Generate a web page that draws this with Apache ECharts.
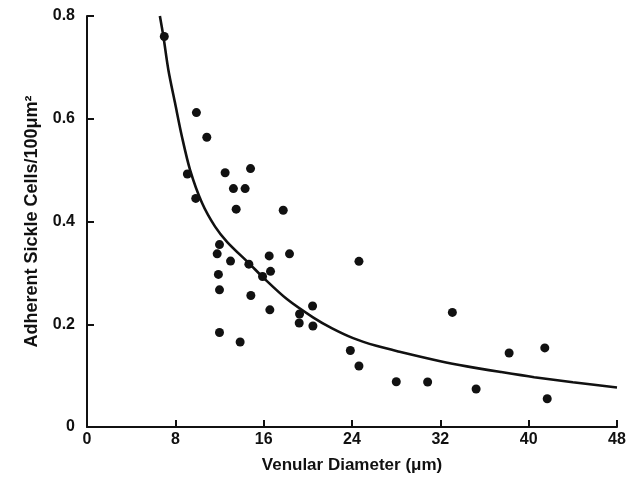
<!DOCTYPE html>
<html>
<head>
<meta charset="utf-8">
<script src="https://cdn.jsdelivr.net/npm/echarts@6/dist/echarts.min.js"></script>
<style>
html,body{margin:0;padding:0;background:#fff;}
#chart{width:629px;height:483px;}
</style>
</head>
<body>
<div id="chart"></div>
<script>
// Observed points: venular diameter (µm) and adherent sickle cells per 100 µm²
var diameters = [7.0, 9.91, 10.85, 9.09, 12.51, 14.81, 13.26, 14.32, 9.85, 13.51, 17.77, 12.0, 11.79, 13.0, 14.66, 16.5, 18.34, 11.9, 16.62, 15.9, 12.0, 14.84, 16.56, 20.43, 19.25, 19.22, 20.46, 12.0, 13.87, 23.85, 24.63, 24.63, 28.01, 30.85, 33.09, 35.24, 38.23, 41.46, 41.68];
var adherent  = [0.76, 0.612, 0.564, 0.4925, 0.495, 0.503, 0.464, 0.464, 0.445, 0.424, 0.422, 0.355, 0.337, 0.323, 0.317, 0.333, 0.337, 0.297, 0.303, 0.293, 0.267, 0.256, 0.228, 0.2355, 0.22, 0.2024, 0.1966, 0.184, 0.1655, 0.149, 0.3225, 0.1187, 0.088, 0.0876, 0.223, 0.074, 0.144, 0.154, 0.055];

// Fitted curve
var curveX = [6.6, 6.92, 7.37, 7.98, 8.6, 9.34, 10.4, 11.6, 12.7, 14.7, 16.0, 18.1, 20.5, 22.2, 24.1, 26.2, 28.4, 32.0, 34.4, 37.5, 40.5, 44.0, 48.0];
var curveY = [0.80, 0.76, 0.695, 0.63, 0.565, 0.50, 0.437, 0.39, 0.36, 0.318, 0.29, 0.249, 0.213, 0.192, 0.173, 0.158, 0.146, 0.128, 0.118, 0.107, 0.097, 0.087, 0.077];

// Tick labels
var xTicks = [0, 8, 16, 24, 32, 40, 48];
var yTickLabels = {0: '0', 0.2: '0.2', 0.4: '0.4', 0.6: '0.6', 0.8: '0.8'};

var scatterData = diameters.map(function (d, i) { return [d, adherent[i]]; });
var curveData = curveX.map(function (d, i) { return [d, curveY[i]]; });

var ink = '#111';
var font = 'Liberation Sans, Arial, Helvetica, sans-serif';

var chart = echarts.init(document.getElementById('chart'), null, {renderer: 'canvas'});
chart.setOption({
  animation: false,
  backgroundColor: '#fff',
  grid: {left: 87, right: 12, top: 16, bottom: 56, containLabel: false, outerBoundsMode: 'none'},
  xAxis: {
    type: 'value', min: 0, max: 48, interval: 8,
    name: 'Venular Diameter (μm)', nameLocation: 'middle', nameGap: 30,
    nameTextStyle: {color: ink, fontFamily: font, fontWeight: 'bold', fontSize: 17},
    axisLine: {show: true, onZero: false, lineStyle: {color: ink, width: 2}},
    axisTick: {show: true, inside: true, length: 7, lineStyle: {color: ink, width: 2}},
    axisLabel: {color: ink, fontFamily: font, fontWeight: 'bold', fontSize: 16, margin: 5,
      formatter: function (v) { return xTicks.indexOf(v) >= 0 ? String(v) : ''; }},
    splitLine: {show: false}
  },
  yAxis: {
    type: 'value', min: 0, max: 0.8, interval: 0.2,
    name: 'Adherent Sickle Cells/100μm²', nameLocation: 'middle', nameGap: 46, nameRotate: 90,
    nameTextStyle: {color: ink, fontFamily: font, fontWeight: 'bold', fontSize: 18},
    axisLine: {show: true, onZero: false, lineStyle: {color: ink, width: 2}},
    axisTick: {show: true, inside: true, length: 7, lineStyle: {color: ink, width: 2}},
    axisLabel: {color: ink, fontFamily: font, fontWeight: 'bold', fontSize: 16, margin: 12,
      formatter: function (v) { var k = Math.round(v * 10) / 10; return yTickLabels[k] || ''; }},
    splitLine: {show: false}
  },
  series: [
    {
      type: 'line', data: curveData, smooth: 0.3, showSymbol: false, symbol: 'none',
      lineStyle: {color: ink, width: 2.6}, clip: true, silent: true, z: 2
    },
    {
      type: 'scatter', data: scatterData, symbol: 'circle', symbolSize: 9,
      itemStyle: {color: ink, opacity: 1}, z: 3
    }
  ]
});
</script>
</body>
</html>
